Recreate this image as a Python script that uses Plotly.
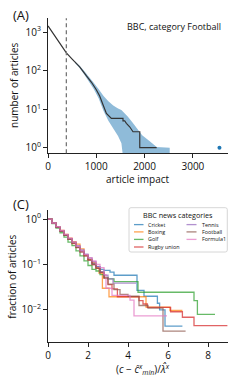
import plotly.graph_objects as go

# ---------------- Panel A data ----------------
impact_x = [0, 100, 200, 300, 380, 500, 656, 800, 900, 1000, 1070, 1139, 1209, 1312,
            1553, 1553, 1588, 1623, 1691, 1760, 1900, 1900, 2250]
impact_n = [1450, 960, 640, 420, 290, 200, 126, 72, 50, 32, 22, 13, 7.8, 5.8,
            5.8, 5.0, 5.0, 4.3, 3.5, 2.6, 2.6, 1.0, 1.0]

band_x = [560, 650, 750, 850, 950, 1050, 1150, 1250, 1350, 1450, 1520, 1560,
          1650, 1750, 1850, 1950, 2100, 2250, 2520]
band_lo = [158, 120, 80, 52, 33, 19, 9, 5, 3.2, 2.0, 1.3, 0.5,
           0.5, 0.5, 0.5, 0.5, 0.5, 0.5, 0.5]
band_hi = [172, 137, 98, 70, 48, 33, 22, 16, 12.5, 10.5, 9.5, 8.5,
           6.5, 4.5, 3.0, 2.1, 1.5, 1.05, 1.0]

outlier_x = [3550]
outlier_n = [1]
xmin_cut = 380

# ---------------- Panel C data ----------------
categories = ["Cricket", "Boxing", "Golf", "Rugby union", "Tennis", "Football", "Formula1"]
colors = ["#1f77b4", "#ff7f0e", "#2ca02c", "#d62728", "#9467bd", "#8c564b", "#e377c2"]

cricket_x = [0, 0.2, 0.4, 0.6, 0.8, 1.0, 1.2, 1.4, 1.6, 1.8, 2.0, 2.2, 2.4, 2.6, 2.8, 3.1,
             3.3, 4.45, 4.8, 5.47, 5.58, 5.85, 6.72]
cricket_y = [1, 0.82, 0.67, 0.55, 0.45, 0.37, 0.30, 0.245, 0.20, 0.165, 0.13, 0.105, 0.09,
             0.078, 0.074, 0.068, 0.058, 0.027, 0.02, 0.014, 0.01, 0.0044, 0.0044]

boxing_x = [0, 0.2, 0.4, 0.6, 0.8, 1.0, 1.2, 1.4, 1.6, 1.8, 2.0, 2.2, 2.4, 2.55, 2.72,
            3.05, 4.9, 6.1, 6.72]
boxing_y = [1, 0.83, 0.68, 0.56, 0.46, 0.38, 0.32, 0.28, 0.22, 0.16, 0.13, 0.11, 0.085,
            0.065, 0.03, 0.0195, 0.0115, 0.0097, 0.0097]

golf_x = [0, 0.2, 0.4, 0.6, 0.8, 1.0, 1.2, 1.4, 1.6, 1.8, 2.0, 2.2, 2.4, 2.6, 2.8, 3.0,
          3.3, 4.5, 7.3, 7.47, 8.35]
golf_y = [1, 0.80, 0.63, 0.50, 0.40, 0.31, 0.26, 0.20, 0.155, 0.12, 0.095, 0.078, 0.072,
          0.06, 0.052, 0.048, 0.042, 0.0245, 0.016, 0.008, 0.008]

rugby_x = [0, 0.2, 0.4, 0.6, 0.8, 1.0, 1.2, 1.4, 1.6, 1.8, 2.0, 2.2, 2.4, 2.6, 2.8, 3.0,
           3.2, 3.47, 4.55, 4.75, 4.97, 6.13, 6.72, 7.3, 8.97]
rugby_y = [1, 0.81, 0.66, 0.54, 0.44, 0.36, 0.29, 0.235, 0.19, 0.155, 0.125, 0.10, 0.082,
           0.066, 0.05, 0.036, 0.029, 0.0195, 0.016, 0.0135, 0.0114, 0.0091, 0.0069,
           0.0045, 0.0045]

tennis_x = [0, 0.2, 0.4, 0.6, 0.8, 1.0, 1.2, 1.4, 1.6, 1.8, 2.0, 2.2, 2.4, 2.6, 2.8, 3.0,
            3.25, 4.4]
tennis_y = [1, 0.82, 0.67, 0.55, 0.45, 0.37, 0.31, 0.26, 0.21, 0.17, 0.14, 0.115, 0.09,
            0.07, 0.058, 0.048, 0.039, 0.039]

football_x = [0, 0.2, 0.4, 0.6, 0.8, 1.0, 1.2, 1.4, 1.6, 1.8, 2.0, 2.2, 2.4, 2.6, 2.8,
              3.0, 3.3, 3.6, 4.0, 4.55, 5.0, 5.75, 6.88]
football_y = [1, 0.81, 0.66, 0.54, 0.44, 0.36, 0.30, 0.24, 0.19, 0.155, 0.125, 0.10,
              0.082, 0.068, 0.05, 0.037, 0.028, 0.022, 0.02, 0.0125, 0.011, 0.0034, 0.0034]

formula1_x = [0, 0.2, 0.4, 0.6, 0.8, 1.0, 1.2, 1.4, 1.6, 1.8, 2.0, 2.2, 2.4, 2.6, 2.8,
              2.9, 3.2, 4.1, 4.3, 5.95]
formula1_y = [1, 0.82, 0.68, 0.56, 0.46, 0.38, 0.31, 0.25, 0.20, 0.165, 0.14, 0.12, 0.10,
              0.085, 0.06, 0.03, 0.021, 0.0165, 0.0074, 0.0074]

series_x = [cricket_x, boxing_x, golf_x, rugby_x, tennis_x, football_x, formula1_x]
series_y = [cricket_y, boxing_y, golf_y, rugby_y, tennis_y, football_y, formula1_y]

# ---------------- layout geometry ----------------
W, H = 240, 386
ML, MR = 48, 12
PW = W - ML - MR
FONT = "Open Sans"


def px_x(p):
    return (p - ML) / PW


def px_y(p):
    return 1 - p / H


fig = go.Figure()

# Panel A
fig.add_trace(go.Scatter(x=band_x, y=band_lo, mode="lines", line=dict(width=0),
                         showlegend=False, hoverinfo="skip", xaxis="x", yaxis="y"))
fig.add_trace(go.Scatter(x=band_x, y=band_hi, mode="lines", line=dict(width=0),
                         fill="tonexty", fillcolor="rgba(31,119,180,0.5)",
                         showlegend=False, hoverinfo="skip", xaxis="x", yaxis="y"))
fig.add_trace(go.Scatter(x=impact_x, y=impact_n, mode="lines",
                         line=dict(color="#333333", width=1.2),
                         showlegend=False, xaxis="x", yaxis="y"))
fig.add_trace(go.Scatter(x=outlier_x, y=outlier_n, mode="markers",
                         marker=dict(color="#1f77b4", size=4),
                         showlegend=False, xaxis="x", yaxis="y"))

# Panel C
for name, col, xs, ys in zip(categories, colors, series_x, series_y):
    r, g, b = int(col[1:3], 16), int(col[3:5], 16), int(col[5:7], 16)
    fig.add_trace(go.Scatter(x=xs, y=ys, mode="lines", name=name,
                             line=dict(color=f"rgba({r},{g},{b},0.72)", width=1.3, shape="hv"),
                             showlegend=False, xaxis="x2", yaxis="y2"))

axis_common = dict(showline=True, linecolor="#222222", linewidth=1, mirror=False,
                   ticks="outside", ticklen=4, tickwidth=1, tickcolor="#222222",
                   showgrid=False, zeroline=False,
                   tickfont=dict(family=FONT, size=10, color="#111111"))

fig.update_layout(
    width=W, height=H,
    margin=dict(l=ML, r=MR, t=0, b=0),
    paper_bgcolor="white", plot_bgcolor="white",
    font=dict(family=FONT, color="#111111"),
    showlegend=False,
    xaxis=dict(domain=[0, 1], anchor="y", range=[0, 3727],
               tickvals=[0, 1000, 2000, 3000], **axis_common),
    yaxis=dict(domain=[px_y(153.3), px_y(18.3)], anchor="x", type="log",
               range=[-0.145, 3.36], tickvals=[1, 10, 100, 1000],
               ticktext=["10<sup>0</sup>", "10<sup>1</sup>", "10<sup>2</sup>", "10<sup>3</sup>"],
               **axis_common),
    xaxis2=dict(domain=[0, 1], anchor="y2", range=[0, 9],
                tickvals=[0, 2, 4, 6, 8], **axis_common),
    yaxis2=dict(domain=[px_y(341.7), px_y(210)], anchor="x2", type="log",
                range=[-2.70, 0.2], tickvals=[1, 0.1, 0.01],
                ticktext=["10<sup>0</sup>", "10<sup>\u22121</sup>", "10<sup>\u22122</sup>"],
                **axis_common),
)

# dashed threshold line in panel A
fig.add_shape(type="line", xref="x", yref="y domain", x0=xmin_cut, x1=xmin_cut, y0=0, y1=1,
              line=dict(color="#777777", width=1.3, dash="4px,3px"))

annotations = [
    dict(text="(A)", x=px_x(11), y=px_y(15), xanchor="left", yanchor="middle",
         font=dict(size=13)),
    dict(text="(C)", x=px_x(11), y=px_y(203.5), xanchor="left", yanchor="middle",
         font=dict(size=13)),
    dict(text="BBC, category Football", x=px_x(223), y=px_y(26.7), xanchor="right",
         yanchor="middle", font=dict(size=9)),
    dict(text="number of articles", x=px_x(14), y=px_y(85), textangle=-90,
         xanchor="center", yanchor="middle", font=dict(size=10)),
    dict(text="article impact", x=px_x(138), y=px_y(178.5), xanchor="center",
         yanchor="middle", font=dict(size=10)),
    dict(text="fraction of articles", x=px_x(12), y=px_y(276.7), textangle=-90,
         xanchor="center", yanchor="middle", font=dict(size=10)),
    dict(text="(<i>c</i> \u2212 <i>\u0109</i><sup><i>x</i></sup><sub><i>min</i></sub>)/<i>\u03bb\u0302</i><sup><i>x</i></sup>",
         x=px_x(143), y=px_y(369), xanchor="center", yanchor="middle", font=dict(size=10)),
]

# manual legend box (rounded)
bx0, bx1 = px_x(129), px_x(227.3)
by0, by1 = px_y(252), px_y(207.7)
rx, ry = 2 / PW, 2 / H
path = (f"M{bx0+rx},{by0} L{bx1-rx},{by0} Q{bx1},{by0} {bx1},{by0+ry} "
        f"L{bx1},{by1-ry} Q{bx1},{by1} {bx1-rx},{by1} L{bx0+rx},{by1} "
        f"Q{bx0},{by1} {bx0},{by1-ry} L{bx0},{by0+ry} Q{bx0},{by0} {bx0+rx},{by0} Z")
fig.add_shape(type="path", xref="paper", yref="paper", path=path,
              line=dict(color="#cccccc", width=0.8), fillcolor="rgba(255,255,255,0.85)")

annotations.append(dict(text="BBC news categories", x=px_x(177.5), y=px_y(215.3),
                        xanchor="center", yanchor="middle", font=dict(size=7.2)))
row_y = [224.6, 231.9, 239.4, 247.0]
col_line = [(134, 143.5), (186.5, 196.5)]
col_text = [146.3, 199.7]
for i, (name, col) in enumerate(zip(categories, colors)):
    c = 0 if i < 4 else 1
    rw = i if i < 4 else i - 4
    r, g, b = int(col[1:3], 16), int(col[3:5], 16), int(col[5:7], 16)
    fig.add_shape(type="line", xref="paper", yref="paper",
                  x0=px_x(col_line[c][0]), x1=px_x(col_line[c][1]),
                  y0=px_y(row_y[rw]), y1=px_y(row_y[rw]),
                  line=dict(color=f"rgba({r},{g},{b},0.72)", width=1.3))
    annotations.append(dict(text=name, x=px_x(col_text[c]), y=px_y(row_y[rw]),
                            xanchor="left", yanchor="middle", font=dict(size=5.4)))

for a in annotations:
    a.update(xref="paper", yref="paper", showarrow=False)
fig.update_layout(annotations=annotations)

fig.write_html("out.html", config={"displayModeBar": False},
               post_script="document.body.style.margin='0';document.body.style.overflow='hidden';")
